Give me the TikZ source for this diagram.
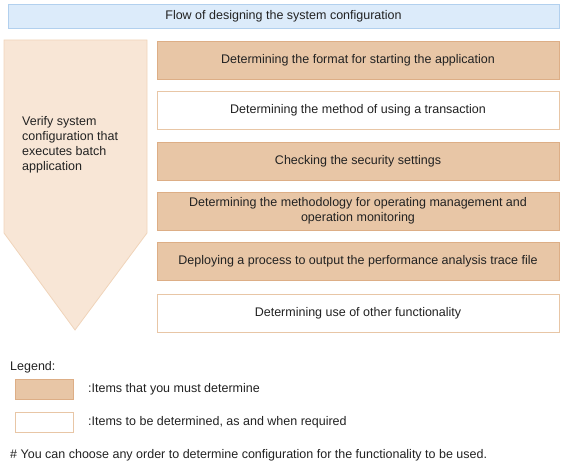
\documentclass[tikz,border=0pt]{standalone}
\usepackage{fontspec}
\setmainfont{Liberation Sans}
\usetikzlibrary{calc}

\definecolor{titlefill}{HTML}{DCEBFA}
\definecolor{titleline}{HTML}{B2D0EE}
\definecolor{arrowfill}{HTML}{F8E6D6}
\definecolor{arrowline}{HTML}{F0D4BA}
\definecolor{mustfill}{HTML}{E8C6A6}
\definecolor{mustline}{HTML}{DDAE86}
\definecolor{textgray}{HTML}{222222}

\tikzset{
    every node/.style={font=\fontsize{12.5}{15}\selectfont, text=textgray},
    mustbox/.style={draw=mustline, fill=mustfill, line width=0.8pt, minimum width=402pt, minimum height=38pt, align=center, inner sep=0pt},
    optbox/.style={draw=mustfill, fill=white, line width=0.8pt, minimum width=402pt, minimum height=38pt, align=center, inner sep=0pt},
    legmust/.style={mustbox, minimum width=58pt, minimum height=20pt},
    legopt/.style={optbox, minimum width=58pt, minimum height=20pt},
}

\begin{document}
\begin{tikzpicture}[x=1pt, y=-1pt]
    \useasboundingbox (0,0) rectangle (564,465);

    % title bar
    \node[draw=titleline, fill=titlefill, line width=0.8pt, minimum width=551pt, minimum height=24pt, inner sep=0pt] at (283.5,16) (TITLE) {Flow of designing the system configuration};

    % big arrow on the left
    \draw[draw=arrowline, fill=arrowfill, line width=0.8pt] (4,40) -- (147,40) -- (147,233) -- (75,330) -- (4,233) -- cycle;
    \node[anchor=north west, align=left, inner sep=0pt] at (22,116) (VERIFY) {Verify system\\configuration that\\executes batch\\application};

    % steps
    \node[mustbox] at (358,60) (FORMAT) {Determining the format for starting the application};
    \node[optbox] at (358,110) (TRANS) {Determining the method of using a transaction};
    \node[mustbox] at (358,161) (SECUR) {Checking the security settings};
    \node[mustbox] at (358,211) (OPMAN) {Determining the methodology for operating management and\\operation monitoring};
    \node[mustbox] at (358,261.5) (TRACE) {Deploying a process to output the performance analysis trace file};
    \node[optbox] at (358,313) (OTHER) {Determining use of other functionality};

    % legend
    \node[anchor=west, inner sep=0pt] at (10,367) (LEG) {Legend:};
    \node[legmust] at (44,389) (LMUST) {};
    \node[anchor=west, inner sep=0pt] at (88,389) (LMUSTT) {:Items that you must determine};
    \node[legopt] at (44,422.5) (LOPT) {};
    \node[anchor=west, inner sep=0pt] at (88,422.5) (LOPTT) {:Items to be determined, as and when required};
    \node[anchor=west, inner sep=0pt] at (10,455) (NOTE) {\# You can choose any order to determine configuration for the functionality to be used.};
\end{tikzpicture}
\end{document}
